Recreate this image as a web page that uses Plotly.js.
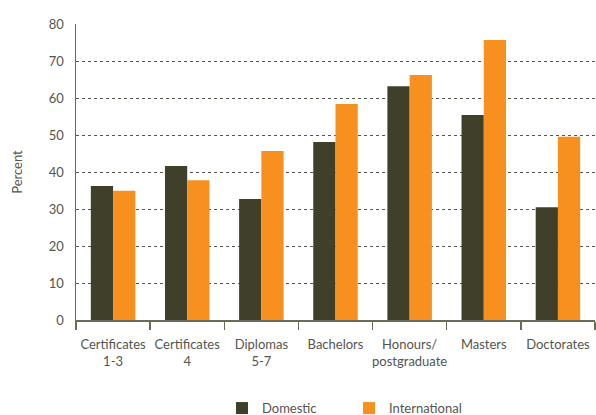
<!DOCTYPE html>
<html>
<head>
<meta charset="utf-8">
<script src="https://cdn.plot.ly/plotly-3.0.1.min.js"></script>
<style>html,body{margin:0;padding:0;background:#fff;}#chart{width:596px;height:415px;}</style>
</head>
<body>
<div id="chart"></div>
<script>
const categories = ["Certificates<br>1-3", "Certificates<br>4", "Diplomas<br>5-7", "Bachelors", "Honours/<br>postgraduate", "Masters", "Doctorates"];
const domestic = [36.2, 41.6, 32.7, 48.1, 63.2, 55.4, 30.5];
const international = [34.9, 37.8, 45.7, 58.4, 66.2, 75.7, 49.5];
const yTicks = [0, 10, 20, 30, 40, 50, 60, 70, 80];

const txt = "#555550";
const font = {family: "Lato, 'Open Sans', sans-serif", size: 13, color: txt};

const data = [
  {type: "bar", name: "Domestic", x: categories, y: domestic, marker: {color: "#3f3f2a"}, hoverinfo: "skip"},
  {type: "bar", name: "International", x: categories, y: international, marker: {color: "#f7901e"}, hoverinfo: "skip"}
];

const layout = {
  width: 596, height: 415,
  margin: {l: 76, r: 1, t: 24, b: 95, autoexpand: false},
  paper_bgcolor: "#fff", plot_bgcolor: "#fff",
  font: font,
  barmode: "group",
  bargap: 0.4,
  bargroupgap: 0,
  showlegend: true,
  legend: {orientation: "h", x: 0.526, xanchor: "center", y: -0.247, yanchor: "top", font: {size: 13, color: txt}, entrywidth: 82, itemwidth: 20},
  xaxis: {
    type: "category",
    tickson: "boundaries",
    tickangle: 0,
    automargin: false,
    ticks: "outside", ticklen: 8, tickcolor: "#6b6b5a", tickwidth: 1.5,
    ticklabelstandoff: 12,
    showline: true, linecolor: "#6b6b5a", linewidth: 1.5,
    showgrid: false,
    tickfont: {size: 13, color: txt},
    fixedrange: true
  },
  yaxis: {
    range: [0, 80],
    tickvals: yTicks,
    automargin: false,
    showline: true, linecolor: "#6b6b5a", linewidth: 1.5,
    showgrid: true, gridcolor: "#55554a", griddash: "dot", gridwidth: 1,
    zeroline: false,
    ticks: "", ticklabelstandoff: 8,
    tickfont: {size: 13, color: txt},
    title: {text: "Percent", font: {size: 13, color: txt}, standoff: 23},
    fixedrange: true
  }
};

Plotly.newPlot("chart", data, layout, {displayModeBar: false, staticPlot: true});
</script>
</body>
</html>
